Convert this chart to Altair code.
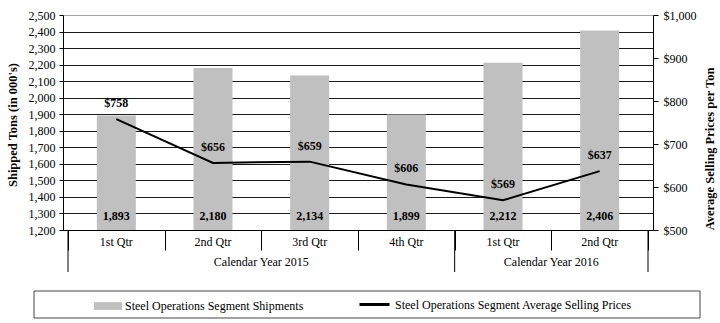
import altair as alt
import pandas as pd

quarters = ["1st Qtr", "2nd Qtr", "3rd Qtr", "4th Qtr", "1st Qtr", "2nd Qtr"]
shipments = [1893, 2180, 2134, 1899, 2212, 2406]
prices = [758, 656, 659, 606, 569, 637]
year_labels = ["Calendar Year 2015", "Calendar Year 2016"]
year_start = [0, 4]
year_end = [4, 6]
series = ["Steel Operations Segment Shipments",
          "Steel Operations Segment Average Selling Prices"]
left_title = "Shipped Tons (in 000's)"
right_title = "Average Selling Prices per Ton"

df = pd.DataFrame({"idx": list(range(len(quarters))), "quarter": quarters,
                   "ship": shipments, "price": prices,
                   "s1": [series[0]] * len(quarters), "s2": [series[1]] * len(quarters)})
years_df = pd.DataFrame({"year": year_labels, "start": year_start, "end": year_end})
bounds_df = pd.DataFrame({"b": sorted(set(year_start + year_end))})
one_df = pd.DataFrame({"k": [0]})

W, H = 590, 215
FONT = "Liberation Serif"
xscale = alt.Scale(domain=[0, len(quarters)], nice=False, zero=False)
left_y = alt.Scale(domain=[1200, 2500], nice=False, zero=False)
right_y = alt.Scale(domain=[500, 1000], nice=False, zero=False)

common = dict(labelFont=FONT, labelFontSize=12, labelColor="black")

x_axis = alt.Axis(values=list(range(len(quarters) + 1)), tickSize=20, labels=False,
                  grid=False, domainColor="black", tickColor="black", title=None, **common)
left_axis = alt.Axis(values=list(range(1200, 2501, 100)), format=",.0f", tickSize=4,
                     tickColor="black", domainColor="black", labelPadding=4,
                     gridColor={"condition": {"test": "datum.value >= 2500", "value": "#a6a6a6"},
                                "value": "#1a1a1a"},
                     title=None, **common)
right_axis = alt.Axis(orient="right", values=list(range(500, 1001, 100)), format="$,.0f",
                      grid=False, tickSize=5, tickColor="black", domainColor="black",
                      labelPadding=5, title=None, **common)


def X(field):
    return alt.X(field, scale=xscale, axis=x_axis, title=None)


base = alt.Chart(df).transform_calculate(xc="datum.idx + 0.5")

bars = base.mark_bar(size=39).encode(
    x=X("xc:Q"),
    y=alt.Y("ship:Q", scale=left_y, axis=left_axis, title=None),
    y2=alt.Y2(datum=1200),
    fill=alt.Fill("s1:N", scale=alt.Scale(range=["#c0c0c0"]),
                  legend=alt.Legend(orient="none", legendX=31, legendY=277, title=None,
                                    symbolType="M-1,-0.28H1V0.28H-1Z", symbolSize=784,
                                    symbolStrokeWidth=0, labelFontSize=12, labelLimit=500,
                                    labelOffset=3, labelFont=FONT, labelColor="black")),
)

bar_labels = base.mark_text(fontWeight="bold", fontSize=12, dy=-14).encode(
    x=X("xc:Q"),
    y=alt.Y(datum=1200, scale=left_y, axis=left_axis, title=None),
    text=alt.Text("ship:Q", format=",.0f"),
)

quarter_labels = base.mark_text(fontSize=12).encode(
    x=X("xc:Q"),
    y=alt.value(H + 12),
    text="quarter:N",
)

year_text = alt.Chart(years_df).transform_calculate(
    mid="(datum.start + datum.end) / 2").mark_text(fontSize=12).encode(
    x=X("mid:Q"),
    y=alt.value(H + 32),
    text="year:N",
)

year_rules = alt.Chart(bounds_df).mark_rule(color="black", strokeWidth=1).encode(
    x=X("b:Q"),
    y=alt.value(H),
    y2=alt.value(H + 42),
)

legend_box = alt.Chart(one_df).mark_rect(
    fill="transparent", stroke="#444", strokeWidth=1).encode(
    x=alt.value(-29), x2=alt.value(637), y=alt.value(276), y2=alt.value(303))

left_title_mark = alt.Chart(one_df).mark_text(
    angle=270, fontWeight="bold", fontSize=12.5, baseline="middle", align="center").encode(
    x=alt.value(-50), y=alt.value(110), text=alt.value(left_title))

right_title_mark = alt.Chart(one_df).mark_text(
    angle=270, fontWeight="bold", fontSize=12.5, baseline="middle", align="center").encode(
    x=alt.value(647), y=alt.value(134), text=alt.value(right_title))

line = base.mark_line(strokeWidth=2).encode(
    x=X("xc:Q"),
    y=alt.Y("price:Q", scale=right_y, axis=right_axis, title=None),
    stroke=alt.Stroke("s2:N", scale=alt.Scale(range=["black"]),
                      legend=alt.Legend(orient="none", legendX=295, legendY=273, title=None,
                                        symbolType="stroke", symbolSize=900,
                                        symbolStrokeWidth=3, labelFontSize=12,
                                        labelLimit=500, labelOffset=4,
                                        labelFont=FONT, labelColor="black")),
)

line_labels = base.mark_text(fontWeight="bold", fontSize=12, dy=-16).encode(
    x=X("xc:Q"),
    y=alt.Y("price:Q", scale=right_y, axis=right_axis, title=None),
    text=alt.Text("price:Q", format="$,.0f"),
)

left_group = alt.layer(legend_box, bars, bar_labels, quarter_labels, year_text, year_rules,
                       left_title_mark, right_title_mark)
right_group = alt.layer(line, line_labels)

chart = alt.layer(left_group, right_group).resolve_scale(
    y="independent", fill="independent", stroke="independent"
).properties(
    width=W, height=H,
    padding={"left": 63, "top": 15, "right": 67, "bottom": 93},
    autosize=alt.AutoSizeParams(type="none"),
).configure(font=FONT).configure_view(stroke=None).configure_axis(**common).configure_legend(
    labelFont=FONT, labelColor="black").configure_text(font=FONT, color="black")

chart.save("out.html", embed_options={"renderer": "svg", "actions": False})
